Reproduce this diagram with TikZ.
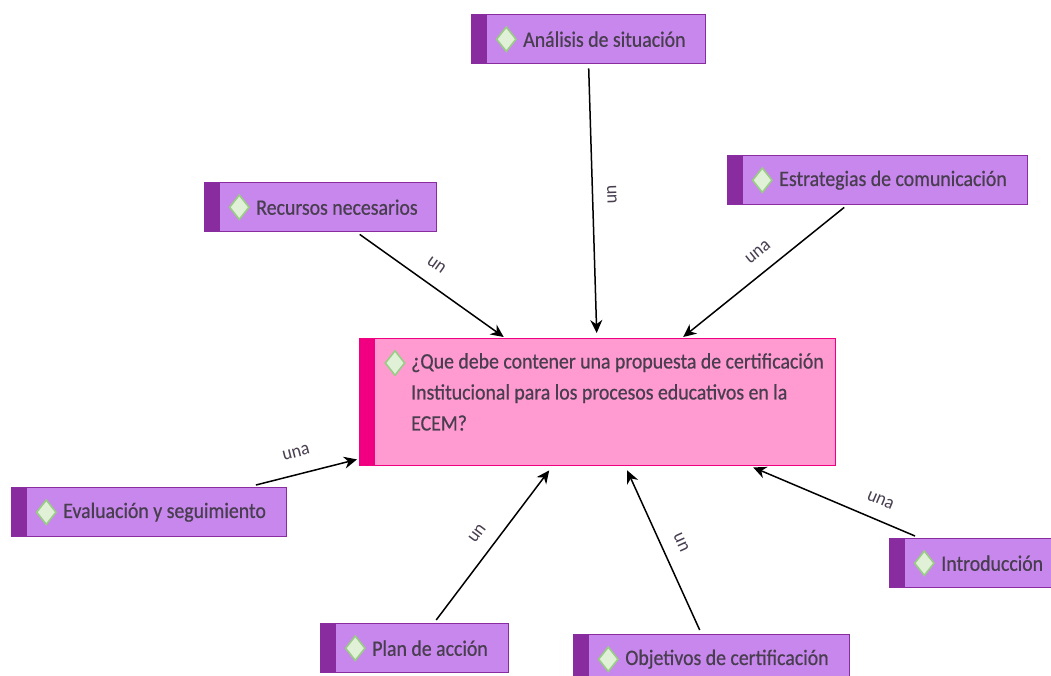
\documentclass[tikz,border=0pt]{standalone}
\usepackage{fontspec}
\setmainfont{Carlito}[FakeStretch=0.9,FakeBold=0.6]
\newfontfamily\labfont{Carlito}[FakeStretch=0.95]
\usetikzlibrary{arrows.meta, positioning, shapes.geometric}
\definecolor{itemfill}{RGB}{200,135,236}
\definecolor{itemdark}{RGB}{136,44,160}
\definecolor{mainfill}{RGB}{255,155,208}
\definecolor{maindark}{RGB}{240,0,128}
\definecolor{ink}{RGB}{72,62,80}
\definecolor{gemfill}{RGB}{225,241,216}
\definecolor{gemline}{RGB}{152,206,132}

\begin{document}
\begin{tikzpicture}[x=1pt, y=-1pt,
		base/.style = {anchor=north west, inner sep=0pt, minimum height=49pt, line width=1.4pt},
		item/.style = {base, draw=itemdark, fill=itemfill, path picture={\fill[itemdark] (path picture bounding box.north west) rectangle ([xshift=15.5pt]path picture bounding box.south west);}},
		mainbox/.style = {base, draw=maindark, fill=mainfill, minimum width=476pt, minimum height=127pt, path picture={\fill[maindark] (path picture bounding box.north west) rectangle ([xshift=15.5pt]path picture bounding box.south west);}},
		gem/.style = {diamond, draw=gemline, fill=gemfill, line width=1.6pt, minimum width=20pt, minimum height=25pt, inner sep=0pt},
		txt/.style = {inner sep=0pt, text=ink, font=\fontsize{22}{31}\selectfont},
		link/.style = {-{Stealth[length=13pt,width=12pt]}, line width=1.5pt},
		lab/.style = {text=ink, inner sep=0pt, font=\labfont\fontsize{19}{20}\selectfont}
		]
		\clip (0,0) rectangle (1051,675);
		\node (main) [mainbox] at (359,338) {};
		\node (maind) [gem] at (395,363) {};
		\node (maint) [txt, anchor=north west, align=left] at (411,353) {¿Que debe contener una propuesta de certificación\\Institucional para los procesos educativos en la\\ECEM?};

		\node (ana) [item, minimum width=234pt] at (471,14) {};
		\node (anad) [gem, right=24.5pt of ana.west] {};
		\node (anat) [txt, right=6pt of anad] {Análisis de situación};

		\node (est) [item, minimum width=300pt] at (727,155) {};
		\node (estd) [gem, right=24.5pt of est.west] {};
		\node (estt) [txt, right=6pt of estd] {Estrategias de comunicación};

		\node (rec) [item, minimum width=232pt] at (204,182) {};
		\node (recd) [gem, right=24.5pt of rec.west] {};
		\node (rect) [txt, right=6pt of recd] {Recursos necesarios};

		\node (eva) [item, minimum width=275pt] at (11,487) {};
		\node (evad) [gem, right=24.5pt of eva.west] {};
		\node (evat) [txt, right=6pt of evad] {Evaluación y seguimiento};

		\node (pla) [item, minimum width=188pt] at (320,623) {};
		\node (plad) [gem, right=24.5pt of pla.west] {};
		\node (plat) [txt, right=6pt of plad] {Plan de acción};

		\node (obj) [item, minimum width=276pt] at (573,634) {};
		\node (objd) [gem, right=24.5pt of obj.west] {};
		\node (objt) [txt, right=6pt of objd] {Objetivos de certificación};

		\node (int) [item, minimum width=170pt] at (889,538) {};
		\node (intd) [gem, right=24.5pt of int.west] {};
		\node (intt) [txt, right=6pt of intd] {Introducción};

		\draw[link] ([shift={(0,4)}]ana.south) -- ([shift={(-1,-5)}]main.north) node (l1) [lab, pos=0.48, sloped, above=14pt] {un};
		\draw[link] ([shift={(-33.5,2)}]est.south) -- ([shift={(85.5,-1)}]main.north) node (l2) [lab, pos=0.46, sloped, above=14pt] {una};
		\draw[link] ([shift={(39,2)}]rec.south) -- ([shift={(-94,-1)}]main.north) node (l3) [lab, pos=0.455, sloped, above=14pt] {un};
		\draw[link] ([shift={(-31.5,-2)}]eva.north east) -- ([shift={(-2,-7)}]main.south west) node (l4) [lab, pos=0.45, sloped, above=16pt] {una};
		\draw[link] ([shift={(21.5,-3)}]pla.north) -- ([shift={(-48.5,4)}]main.south) node (l5) [lab, pos=0.5, sloped, above=14pt] {un};
		\draw[link] ([shift={(-12,-4)}]obj.north) -- ([shift={(29.5,4)}]main.south) node (l6) [lab, pos=0.5, sloped, above=14pt] {un};
		\draw[link] ([shift={(26,-2)}]int.north west) -- ([shift={(155.5,1)}]main.south) node (l7) [lab, pos=0.26, sloped, above=14pt] {una};
	\end{tikzpicture}
\end{document}
